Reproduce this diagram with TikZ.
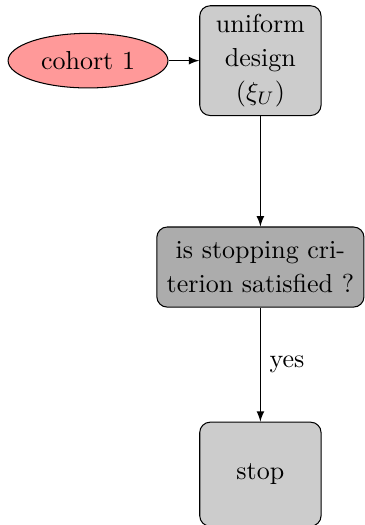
\documentclass[tikz,border=0pt]{standalone}
\usepackage{amsmath}
\usepackage{amssymb}
\usetikzlibrary{shapes.geometric}

\begin{document}
\begin{tikzpicture}[>=latex, font = \fontsize{10}{13}\selectfont,
                        block/.style = {rectangle, draw, fill = gray!40, text width = 4em, align = center, rounded corners, minimum height = 4em},
                        decision/.style = {rectangle, draw, fill = gray!65, text width = 73pt, align = center, rounded corners, minimum height = 30.8pt},
                        cloud/.style = {ellipse, draw, fill = red!40, inner sep = 1pt, minimum width = 61.5pt, minimum height = 21pt}]
      \useasboundingbox (0, 0) rectangle (4.934, -7.097);

      \node [cloud] (cohort) at (1.19, -0.82){cohort 1};
      \node [block] (uniform) at (3.52, -0.82){uniform design $(\xi_U)$};
      \node [decision] (crit) at (3.52, -3.61){is stopping cri-\\terion satisfied ?};
      \node [block] (stop) at (3.52, -6.41){stop};

      \draw [->] (cohort) -- (uniform);
      \draw [->] (uniform) -- (crit);
      \draw [->] (crit) -- node [right]{yes} (stop);

      \end{tikzpicture}
\end{document}
